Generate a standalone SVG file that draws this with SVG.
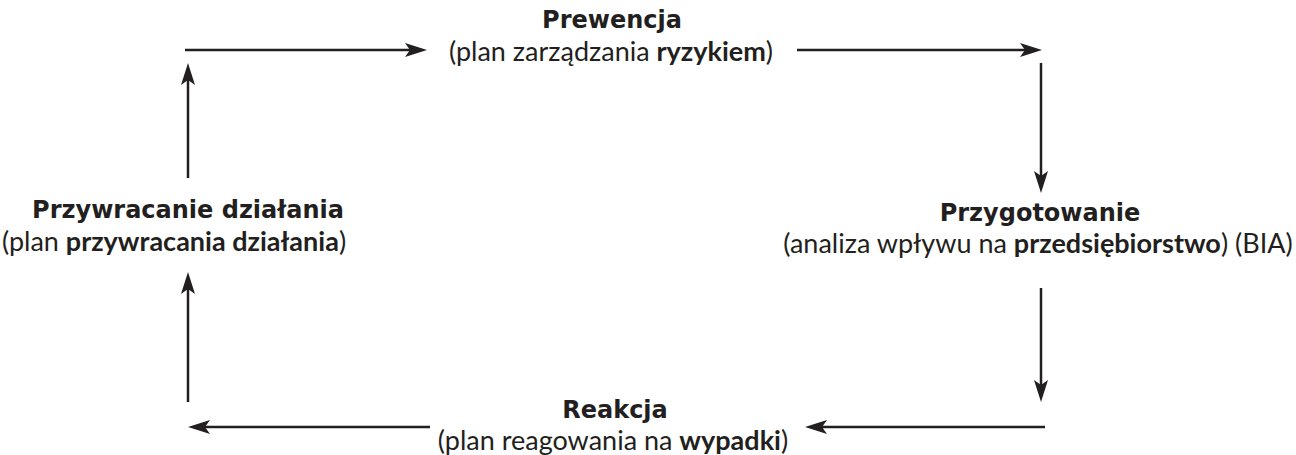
<svg xmlns="http://www.w3.org/2000/svg" width="1296" height="455" viewBox="0 0 1296 455">
  <style>
    .title { font-family: "DejaVu Sans", "Liberation Sans", sans-serif; font-weight: bold; font-size: 24px; fill: #231f20; text-anchor: middle; }
    .sub { font-family: "Lato", "Liberation Sans", sans-serif; font-weight: normal; font-size: 27px; fill: #231f20; text-anchor: middle; }
    .em { font-weight: bold; }
    .conn { stroke: #231f20; stroke-width: 2.5; fill: none; marker-end: url(#arrow); }
  </style>
  <defs>
    <marker id="arrow" markerUnits="userSpaceOnUse" markerWidth="24" markerHeight="16" viewBox="0 -8 24 16" refX="14" refY="0" orient="auto">
      <path d="M0,-7 L22,0 L0,7 L5,0 z" fill="#231f20"/>
    </marker>
  </defs>
  <g id="connectors">
    <line class="conn" x1="185" y1="50" x2="419" y2="50"/>
    <line class="conn" x1="797" y1="50" x2="1034" y2="50"/>
    <line class="conn" x1="1041" y1="63" x2="1041" y2="185"/>
    <line class="conn" x1="1041" y1="288" x2="1041" y2="394"/>
    <line class="conn" x1="1045" y1="427" x2="813" y2="427"/>
    <line class="conn" x1="430" y1="427" x2="196" y2="427"/>
    <line class="conn" x1="188" y1="402" x2="188" y2="280"/>
    <line class="conn" x1="188" y1="178" x2="188" y2="71"/>
  </g>
  <g id="prewencja">
    <text class="title" x="612" y="28">Prewencja</text>
    <text class="sub" x="611" y="61">(plan zarządzania <tspan class="em">ryzykiem</tspan>)</text>
  </g>
  <g id="przygotowanie">
    <text class="title" x="1040" y="221">Przygotowanie</text>
    <text class="sub" x="1038" y="253">(analiza wpływu na <tspan class="em">przedsiębiorstwo</tspan>) (BIA)</text>
  </g>
  <g id="reakcja">
    <text class="title" x="615" y="418">Reakcja</text>
    <text class="sub" x="613" y="450">(plan reagowania na <tspan class="em">wypadki</tspan>)</text>
  </g>
  <g id="przywracanie">
    <text class="title" x="188" y="218">Przywracanie działania</text>
    <text class="sub" x="174" y="251">(plan <tspan class="em">przywracania działania</tspan>)</text>
  </g>
</svg>
